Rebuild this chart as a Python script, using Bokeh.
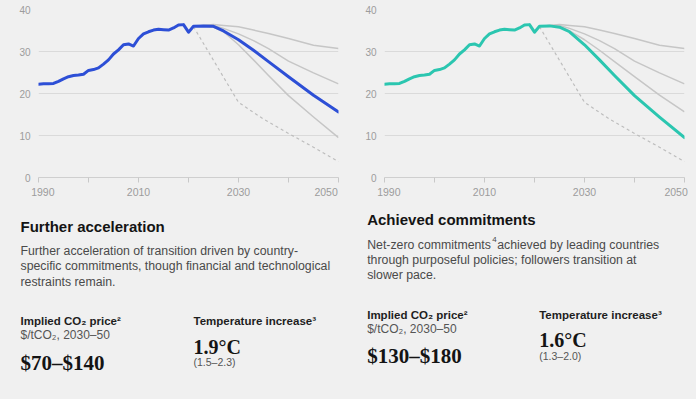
from bokeh.plotting import figure
from bokeh.models import Range1d, FixedTicker, Label
from bokeh.layouts import row, column
from bokeh.embed import file_html
from bokeh.resources import INLINE

# ---------------- data ----------------
hist_years = list(range(1990, 2022))
hist_values = [22.2, 22.3, 22.3, 22.4, 22.9, 23.5, 24.0, 24.3, 24.4, 24.6,
               25.5, 25.7, 26.1, 27.0, 28.0, 29.4, 30.4, 31.6, 31.8, 31.3,
               33.1, 34.2, 34.7, 35.1, 35.3, 35.2, 35.1, 35.6, 36.3, 36.4,
               34.6, 36.0]

proj_years = [2021, 2023, 2025, 2027, 2030, 2033, 2036, 2040, 2045, 2050]
delayed_transition = [36.0, 36.2, 36.4, 36.2, 35.9, 35.1, 34.3, 33.1, 31.5, 30.7]
current_trajectory = [36.0, 36.2, 36.2, 35.5, 34.2, 32.6, 30.7, 27.7, 24.9, 22.3]
further_acceleration = [36.0, 36.1, 36.0, 34.9, 32.8, 30.3, 27.6, 24.0, 19.6, 15.6]
achieved_commitments = [36.0, 36.1, 35.8, 34.7, 31.6, 28.0, 24.3, 19.5, 14.4, 9.5]

pathway_years = [2021, 2030, 2035, 2040, 2045, 2050]
pathway_values = [35.9, 17.9, 13.9, 10.5, 7.2, 3.8]

y_ticks = [0, 10, 20, 30, 40]
x_ticks = [1990, 2000, 2010, 2020, 2030, 2040, 2050]
x_tick_labels = {1990: "1990", 2000: "", 2010: "2010", 2020: "",
                 2030: "2030", 2040: "", 2050: "2050"}

scenarios = {
    "delayed": delayed_transition,
    "current": current_trajectory,
    "further": further_acceleration,
    "achieved": achieved_commitments,
}

panel_texts = {
    "further": {
        "title": "Further acceleration",
        "desc": ["Further acceleration of transition driven by country-",
                 "specific commitments, though financial and technological",
                 "restraints remain."],
        "price": "$70\u2013$140",
        "temp": "1.9\u00b0C",
        "temp_range": "(1.5\u20132.3)",
    },
    "achieved": {
        "title": "Achieved commitments",
        "desc": ["Net-zero commitments\u2074achieved by leading countries",
                 "through purposeful policies; followers transition at",
                 "slower pace."],
        "price": "$130\u2013$180",
        "temp": "1.6\u00b0C",
        "temp_range": "(1.3\u20132.0)",
    },
}

# ---------------- style ----------------
BG = "#f0f0f0"
SANS = "Liberation Sans"
SERIF = "Liberation Serif"
GRAY_LINE = "#c6c6c6"
GRID = "#dadada"
NB = "\u00a0"
SUP4 = "\u2074"


def make_chart(highlight, color, width, border_right):
    p = figure(width=width, height=200, x_range=Range1d(1990, 2050),
               y_range=Range1d(0, 40), output_backend="svg",
               toolbar_location=None, min_border_left=38,
               min_border_right=border_right, min_border_top=9,
               min_border_bottom=23)
    p.background_fill_color = BG
    p.border_fill_color = BG
    p.outline_line_color = None

    p.xgrid.visible = False
    p.ygrid.ticker = FixedTicker(ticks=y_ticks[1:])
    p.ygrid.grid_line_color = GRID
    p.ygrid.grid_line_width = 1

    p.yaxis.ticker = FixedTicker(ticks=y_ticks)
    p.yaxis.axis_line_color = None
    p.yaxis.major_tick_line_color = None
    p.yaxis.minor_tick_line_color = None
    p.yaxis.major_tick_out = 0
    p.yaxis.major_tick_in = 0
    p.yaxis.major_label_standoff = 8
    p.yaxis.major_label_text_font = SANS
    p.yaxis.major_label_text_font_size = "10px"
    p.yaxis.major_label_text_color = "#9c9c9c"

    # labels padded with no-break spaces so 1990 sits right of its tick and
    # 2050 ends at its tick, as in the original
    overrides = dict(x_tick_labels)
    overrides[1990] = NB * 3 + overrides[1990]
    overrides[2050] = overrides[2050] + NB * 3
    p.xaxis.ticker = FixedTicker(ticks=x_ticks)
    p.xaxis.major_label_overrides = overrides
    p.xaxis.axis_line_color = "#cfcfcf"
    p.xaxis.major_tick_line_color = "#c8c8c8"
    p.xaxis.major_tick_out = 5
    p.xaxis.major_tick_in = 0
    p.xaxis.minor_tick_line_color = None
    p.xaxis.major_label_standoff = 3
    p.xaxis.major_label_text_font = SANS
    p.xaxis.major_label_text_font_size = "10.5px"
    p.xaxis.major_label_text_color = "#9c9c9c"

    # 1.5C pathway
    p.line(pathway_years, pathway_values, line_color="#bdbdbd", line_width=1.2,
           line_dash="3 3")
    # other scenarios
    for name, vals in scenarios.items():
        if name == highlight:
            continue
        p.line(proj_years, vals, line_color=GRAY_LINE, line_width=1.5,
               line_join="round")
    # highlighted scenario incl. history
    hv = scenarios[highlight]
    p.line(hist_years + proj_years[1:], hist_values + hv[1:], line_color=color,
           line_width=3, line_join="round", line_cap="round")
    return p


def add_text(p, x, y, text, size, color, bold=False, font=SANS):
    p.add_layout(Label(x=x, y=y, text=text, text_font=font,
                       text_font_size=size, text_color=color,
                       text_font_style="bold" if bold else "normal",
                       text_align="left", text_baseline="alphabetic"))


def make_text(key, width, height, lx, tx, dy):
    # pixel-space canvas (y grows downward)
    p = figure(width=width, height=height, x_range=Range1d(0, width),
               y_range=Range1d(height, 0), output_backend="svg",
               toolbar_location=None, x_axis_type=None, y_axis_type=None,
               min_border=0)
    p.background_fill_color = BG
    p.border_fill_color = BG
    p.outline_line_color = None
    p.grid.visible = False
    t = panel_texts[key]
    desc_col = "#4a4a4a"
    add_text(p, lx, 30 + dy, t["title"], "15px", "#141414", bold=True)
    for i, line in enumerate(t["desc"]):
        yy = 55 + dy + 15.3 * i
        if SUP4 in line:
            head, tail = line.split(SUP4)
            add_text(p, lx, yy, head, "12.3px", desc_col)
            add_text(p, lx + 125, yy - 5, "4", "8px", desc_col)
            add_text(p, lx + 130, yy, tail, "12.3px", desc_col)
        else:
            add_text(p, lx, yy, line, "12.3px", desc_col)
    add_text(p, lx, 125 + dy, "Implied CO\u2082 price\u00b2", "11.5px", "#1e1e1e", bold=True)
    add_text(p, lx, 139.3 + dy, "$/tCO\u2082, 2030\u201350", "12px", "#555555")
    add_text(p, lx, 166.7 + dy, t["price"], "21px", "#141414", bold=True, font=SERIF)
    add_text(p, tx, 125 + dy, "Temperature increase\u00b3", "11.5px", "#1e1e1e", bold=True)
    add_text(p, tx, 150.7 + dy, t["temp"], "20px", "#141414", bold=True, font=SERIF)
    add_text(p, tx, 166 + dy, t["temp_range"], "10.5px", "#555555")
    return p


c1 = make_chart("further", "#2d4fd6", 346, 8)
c2 = make_chart("achieved", "#2bc6b0", 350, 12)
t1 = make_text("further", 346, 198, 20, 193, -4.5)
t2 = make_text("achieved", 350, 198, 20.7, 192.7, -11)

layout = column(row(c1, c2), row(t1, t2))
html = file_html(layout, INLINE)
html = html.replace("</head>",
                    "<style>html, body { background-color: #f0f0f0; margin: 0; }</style></head>", 1)
open("out.html", "w").write(html)
